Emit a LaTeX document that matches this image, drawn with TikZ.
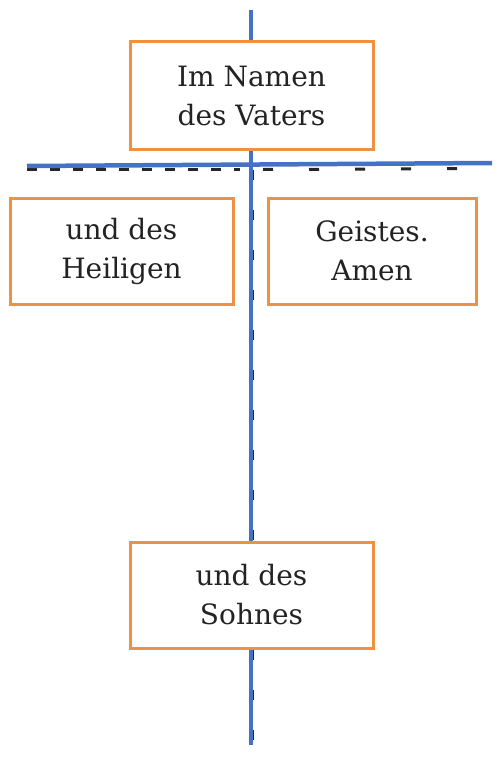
\documentclass[tikz,border=0pt]{standalone}
\usepackage{fontspec}
\setmainfont{DejaVu Serif}
\definecolor{crossblue}{RGB}{68,114,196}
\definecolor{boxorange}{RGB}{240,145,65}
\definecolor{txt}{RGB}{35,35,35}
\begin{document}
\begin{tikzpicture}[x=1pt,y=-1pt,
  wordbox/.style={draw=boxorange,line width=3pt,fill=white,align=center,
    text=txt,font=\fontsize{28}{39}\selectfont,inner sep=0pt},
  beam/.style={draw=crossblue,line width=4.5pt},
  guide/.style={draw=black!85,line width=3pt}]
\useasboundingbox (0,0) rectangle (500,784);
% coordinates
\coordinate (vtop) at (251,10);
\coordinate (vbot) at (251,745);
\coordinate (hl) at (27,166);
\coordinate (hr) at (492,163);
\coordinate (dl) at (27,169.5);
\coordinate (dm) at (240,169.5);
\coordinate (dr) at (492,168.5);
\coordinate (dvt) at (252.5,170);
\coordinate (dvb) at (252.5,745);
% dashed guides
\draw[guide,dash pattern=on 10pt off 13pt] (dl) -- (dm);
\draw[guide,dash pattern=on 10pt off 36pt] (dm) ++(23,0) -- (dr);
\draw[guide,dash pattern=on 10pt off 30pt] (dvt) -- (dvb);
% blue cross
\draw[beam] (vtop) -- (vbot);
\draw[beam] (hl) -- (hr);
% boxes
\node[wordbox,minimum width=243pt,minimum height=107pt] (vater) at (251.5,95.5) {Im Namen\\des Vaters};
\node[wordbox,minimum width=223pt,minimum height=106pt] (heilig) at (121.5,251) {und des\\Heiligen};
\node[wordbox,minimum width=208pt,minimum height=106pt] (geist) at (372,251) {Geistes.\\Amen};
\node[wordbox,minimum width=243pt,minimum height=106pt] (sohn) at (251.5,595) {und des\\Sohnes};
\end{tikzpicture}
\end{document}
